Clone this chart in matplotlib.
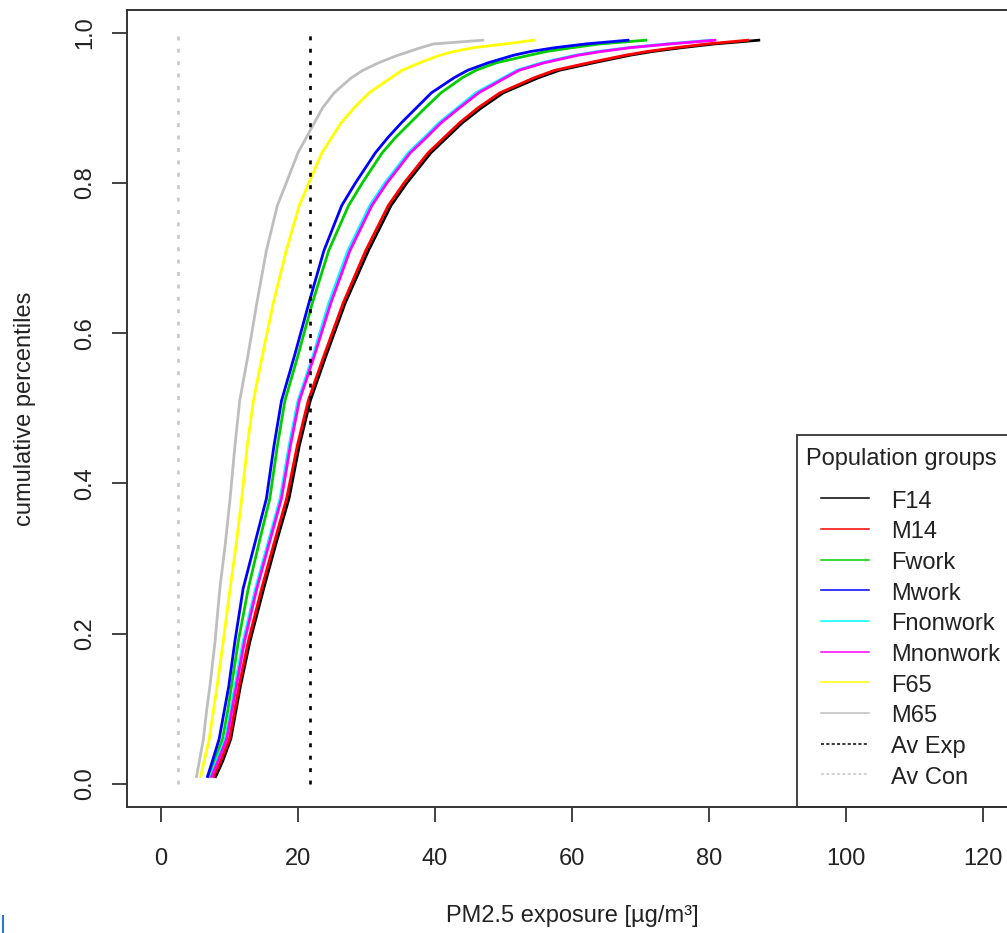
#Used for data visualisation
import matplotlib
matplotlib.use("Agg")
import matplotlib.pyplot as plt
from matplotlib.lines import Line2D
from matplotlib.patches import Rectangle

plt.rcParams['font.family'] = ['Liberation Sans', 'DejaVu Sans']

#Cumulative percentiles (y) shared by all population groups
percentiles = [0.01, 0.03, 0.06, 0.10, 0.13, 0.19, 0.26, 0.32, 0.38, 0.45, 0.51, 0.57, 0.64, 0.71,
               0.77, 0.80, 0.84, 0.86, 0.88, 0.90, 0.92, 0.94, 0.95, 0.96, 0.97, 0.975, 0.98, 0.985, 0.99]

#PM2.5 exposure at those percentiles [ug/m3]
F14 = [8.0, 9.0, 10.2, 11.0, 11.6, 13.0, 15.0, 16.8, 18.7, 20.2, 21.8, 24.1, 26.9, 30.3,
       33.6, 35.9, 39.4, 41.7, 44.0, 46.8, 50.0, 55.1, 58.2, 63.2, 68.5, 71.8, 76.0, 80.8, 87.3]
M14 = [7.7, 8.7, 10.0, 10.8, 11.4, 12.75, 14.7, 16.5, 18.35, 19.9, 21.5, 23.8, 26.6, 29.9,
       33.2, 35.5, 39.0, 41.3, 43.6, 46.3, 49.5, 54.5, 57.5, 62.5, 67.8, 71.0, 75.1, 79.7, 85.7]
Fwork = [7.05, 7.8, 9.0, 9.8, 10.3, 11.3, 12.75, 14.3, 15.9, 17.0, 18.1, 20.0, 22.1, 24.5,
         27.4, 29.4, 32.3, 34.2, 36.4, 38.6, 40.9, 44.0, 46.0, 49.0, 53.8, 56.3, 60.0, 64.0, 70.8]
Mwork = [6.8, 7.5, 8.5, 9.3, 9.9, 10.8, 12.0, 13.7, 15.4, 16.5, 17.6, 19.5, 21.6, 23.8,
         26.4, 28.4, 31.3, 33.1, 35.1, 37.3, 39.5, 42.8, 44.8, 47.8, 51.5, 54.0, 57.5, 62.0, 68.2]
Fnonwork = [7.3, 8.1, 9.4, 10.2, 10.8, 12.0, 13.8, 15.6, 17.4, 18.7, 20.0, 22.2, 24.5, 27.3,
            30.5, 32.7, 36.1, 38.4, 40.6, 43.3, 46.0, 50.0, 52.0, 55.6, 60.5, 63.8, 68.2, 73.8, 80.3]
Mnonwork = [7.4, 8.3, 9.6, 10.4, 11.0, 12.2, 14.0, 15.8, 17.6, 18.9, 20.2, 22.4, 24.8, 27.6,
            30.8, 33.0, 36.4, 38.7, 40.9, 43.6, 46.4, 50.3, 52.3, 56.0, 60.9, 64.3, 68.5, 74.3, 80.9]
F65 = [5.8, 6.3, 7.05, 7.7, 8.2, 9.1, 10.1, 11.0, 11.8, 12.6, 13.5, 14.8, 16.4, 18.3,
       20.2, 21.6, 23.5, 24.9, 26.3, 28.2, 30.4, 33.6, 35.2, 37.8, 40.7, 42.8, 45.6, 50.3, 54.4]
M65 = [5.2, 5.6, 6.2, 6.7, 7.15, 7.9, 8.6, 9.4, 10.1, 10.8, 11.5, 12.7, 14.0, 15.4,
       17.0, 18.3, 20.0, 21.2, 22.4, 23.6, 25.3, 27.8, 29.5, 31.8, 34.6, 36.3, 37.9, 39.8, 47.0]

group_names = ['F14', 'M14', 'Fwork', 'Mwork', 'Fnonwork', 'Mnonwork', 'F65', 'M65']
group_values = [F14, M14, Fwork, Mwork, Fnonwork, Mnonwork, F65, M65]

#Average exposure and average concentration
av_exp = 21.7
av_con = 2.45
ref_names = ['Av Exp', 'Av Con']
ref_values = [av_exp, av_con]

x_ticks = [0, 20, 40, 60, 80, 100, 120]
y_ticks = [0.0, 0.2, 0.4, 0.6, 0.8, 1.0]

#Colours (R default palette)
group_colors = ['#000000', '#ff0000', '#00cd00', '#0000ff', '#00ffff', '#ff00ff', '#ffff00', '#bebebe']
ref_colors = ['#000000', '#c8c8c8']

W, H = 1007, 933
fig = plt.figure(figsize=(W / 100, H / 100), dpi=100)

def fx(px):
    return px / W

def fy(py):
    return (H - py) / H

#Plot region (right edge runs past the picture, as in the original)
ax = fig.add_axes([fx(126.7), fy(806.7), fx(1017) - fx(126.7), fy(10) - fy(806.7)])

for vals, col in zip(group_values, group_colors):
    ax.plot(vals, percentiles, color=col, lw=2.0)

for v, col in zip(ref_values, ref_colors):
    ax.plot([v, v], [0, 1], color=col, lw=1.9, linestyle=(0, (1.5, 3.2)))

ax.set_xlim(-5, 125)
ax.set_ylim(-0.0302, 1.0302)

frame_col = '#333333'
for s in ax.spines.values():
    s.set_color(frame_col)
    s.set_linewidth(1.4)

ax.set_xticks(x_ticks)
ax.set_xticklabels([str(t) for t in x_ticks])
ax.set_yticks(y_ticks)
ax.set_yticklabels(['%.1f' % t for t in y_ticks])
ax.tick_params(direction='out', length=10.8, width=1.3, color=frame_col,
               labelsize=17, labelcolor='#222222')
ax.tick_params(axis='x', pad=19)
ax.tick_params(axis='y', pad=11)
for lbl in ax.get_yticklabels():
    lbl.set_rotation(90)
    lbl.set_va('center')

#Axis titles
fig.text(fx(572), fy(916), 'PM2.5 exposure [\u00b5g/m\u00b3]', ha='center', va='center',
         fontsize=17, color='#222222')
fig.text(fx(25), fy(409), 'cumulative percentiles', ha='center', va='center',
         rotation=90, fontsize=17, color='#222222')

#Legend drawn like the R legend box (bottom right, cut off at the edge)
fig.add_artist(Rectangle((fx(797.3), fy(806.7)), fx(1150) - fx(797.3), fy(435) - fy(806.7),
                         transform=fig.transFigure, fill=False, ec=frame_col, lw=1.3))
fig.text(fx(806), fy(465), 'Population groups', ha='left', va='baseline',
         fontsize=17, color='#222222')

legend_names = group_names + ref_names
legend_colors = group_colors + ref_colors
legend_styles = ['-'] * len(group_names) + [(0, (2, 1.5))] * len(ref_names)
step = 30.67
for i, (name, col, ls) in enumerate(zip(legend_names, legend_colors, legend_styles)):
    ly = 498.3 + i * step
    fig.add_artist(Line2D([fx(821), fx(869)], [fy(ly), fy(ly)], transform=fig.transFigure,
                          color=col, lw=1.1, linestyle=ls))
    fig.text(fx(891), fy(ly + 9.5), name, ha='left', va='baseline', fontsize=17, color='#222222')

#Small blue mark at the bottom left corner of the original picture
fig.add_artist(Line2D([fx(3), fx(3)], [fy(916), fy(933)], transform=fig.transFigure,
                      color='#2a7ad5', lw=1.5))

fig.savefig('out.png', dpi=100)
